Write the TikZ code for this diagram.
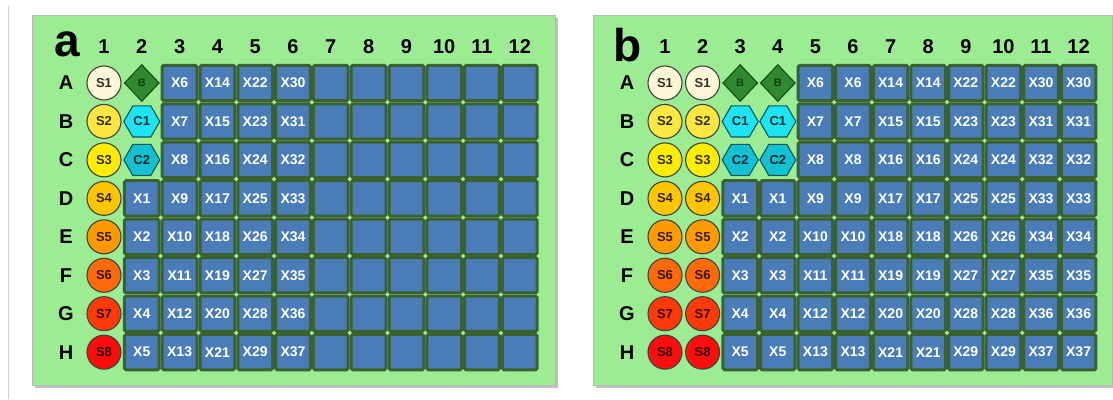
\documentclass[tikz,border=0pt]{standalone}
\usepackage{fontspec}
\setmainfont{Liberation Sans}
\usetikzlibrary{shapes.geometric}
\definecolor{plategreen}{HTML}{9CEC94}
\definecolor{gutter}{HTML}{3A6230}
\definecolor{wellblue}{HTML}{4A7DB8}
\definecolor{blankgreen}{HTML}{2F8A2F}
\definecolor{blankedge}{HTML}{184A18}
\definecolor{ctrla}{HTML}{1CE4F2}
\definecolor{ctrlb}{HTML}{12C2D2}
\definecolor{ctrledge}{HTML}{0D5560}
\definecolor{s1}{HTML}{FFF6D8}
\definecolor{s2}{HTML}{FFE640}
\definecolor{s3}{HTML}{FFEC00}
\definecolor{s4}{HTML}{FFC600}
\definecolor{s5}{HTML}{FF9A00}
\definecolor{s6}{HTML}{FF6A08}
\definecolor{s7}{HTML}{FF3A08}
\definecolor{s8}{HTML}{FF0C0C}

\begin{document}
\begin{tikzpicture}[x=1pt,y=-1pt,
  plate/.style={draw=gray!55,line width=0.8pt,fill=plategreen},
  plateshade/.style={fill=gray!50},
  hdr/.style={font=\fontsize{20}{20}\selectfont\bfseries,inner sep=0pt},
  tag/.style={font=\fontsize{46}{46}\selectfont\bfseries,inner sep=0pt},
  well/.style={rectangle,fill=wellblue,draw=gutter,line width=3pt,rounded corners=1.6pt,
    minimum width=34.8pt,minimum height=35.4pt,inner sep=0pt,text=white,
    font=\fontsize{14}{14}\selectfont\bfseries},
  std/.style={circle,draw=black!75,line width=1.1pt,minimum size=34pt,inner sep=0pt,
    font=\fontsize{13}{13}\selectfont\bfseries,text opacity=0.8},
  blank/.style={diamond,fill=blankgreen,draw=blankedge,line width=1.1pt,minimum width=35pt,
    minimum height=37pt,inner sep=0pt,font=\fontsize{11}{11}\selectfont\bfseries,text opacity=0.55},
  ctrl/.style={regular polygon,regular polygon sides=6,draw=ctrledge,line width=1.1pt,
    minimum size=36pt,inner sep=0pt,font=\fontsize{13}{13}\selectfont\bfseries,text opacity=0.8}]
\useasboundingbox (0,0) rectangle (1113,399);
\draw[gray!35,line width=0.8pt] (8,6) -- (8,399);
% (a) one standard curve, single wells
\fill[plateshade] (35,18) rectangle (558,388);
\draw[plate] (32,15) rectangle (555,385);
\node[tag] (taga) at (67,44.5) {a};
\foreach \c in {1,...,12} \node[hdr] (ca\c) at ({104+(\c-1)*37.8},46.5) {\c};
\foreach \L [count=\r] in {A,B,C,D,E,F,G,H} {
  \node[hdr] (ra\L) at (66,{83+(\r-1)*38.45}) {\L};
  \node[std,fill=s\r] (a\L1) at (104,{83+(\r-1)*38.45}) {S\r};
}
\node[blank] (aA2) at (141.8,83) {B};
\node[ctrl,fill=ctrla] (aB2) at (141.8,121.45) {C1};
\node[ctrl,fill=ctrlb] (aC2) at (141.8,159.9) {C2};
\foreach \L [count=\r] in {A,B,C,D,E,F,G,H} \foreach \c in {2,...,12} {
  \pgfmathtruncatemacro\n{8*(\c-2)+\r-3}
  \ifnum\n>0
    \ifnum\c<7
      \node[well] (a\L\c) at ({104+(\c-1)*37.8},{83+(\r-1)*38.45}) {X\n};
    \else
      \node[well] (a\L\c) at ({104+(\c-1)*37.8},{83+(\r-1)*38.45}) {};
    \fi
  \fi
}
% (b) duplicate wells
\fill[plateshade] (596,18) rectangle (1116,388);
\draw[plate] (593,15) rectangle (1112.5,385);
\node[tag] (tagb) at (628,45) {b};
\foreach \c in {1,...,12} \node[hdr] (cb\c) at ({665+(\c-1)*37.6},46.5) {\c};
\foreach \L [count=\r] in {A,B,C,D,E,F,G,H} {
  \node[hdr] (rb\L) at (627,{83+(\r-1)*38.45}) {\L};
  \foreach \c in {1,2} \node[std,fill=s\r] (b\L\c) at ({665+(\c-1)*37.6},{83+(\r-1)*38.45}) {S\r};
}
\foreach \c in {3,4} {
  \node[blank] (bA\c) at ({665+(\c-1)*37.6},83) {B};
  \node[ctrl,fill=ctrla] (bB\c) at ({665+(\c-1)*37.6},121.45) {C1};
  \node[ctrl,fill=ctrlb] (bC\c) at ({665+(\c-1)*37.6},159.9) {C2};
}
\foreach \L [count=\r] in {A,B,C,D,E,F,G,H} \foreach \c in {3,...,12} {
  \pgfmathtruncatemacro\n{8*int((\c-3)/2)+\r-3}
  \ifnum\n>0
    \node[well,minimum width=34.6pt] (b\L\c) at ({665+(\c-1)*37.6},{83+(\r-1)*38.45}) {X\n};
  \fi
}
\end{tikzpicture}
\end{document}
